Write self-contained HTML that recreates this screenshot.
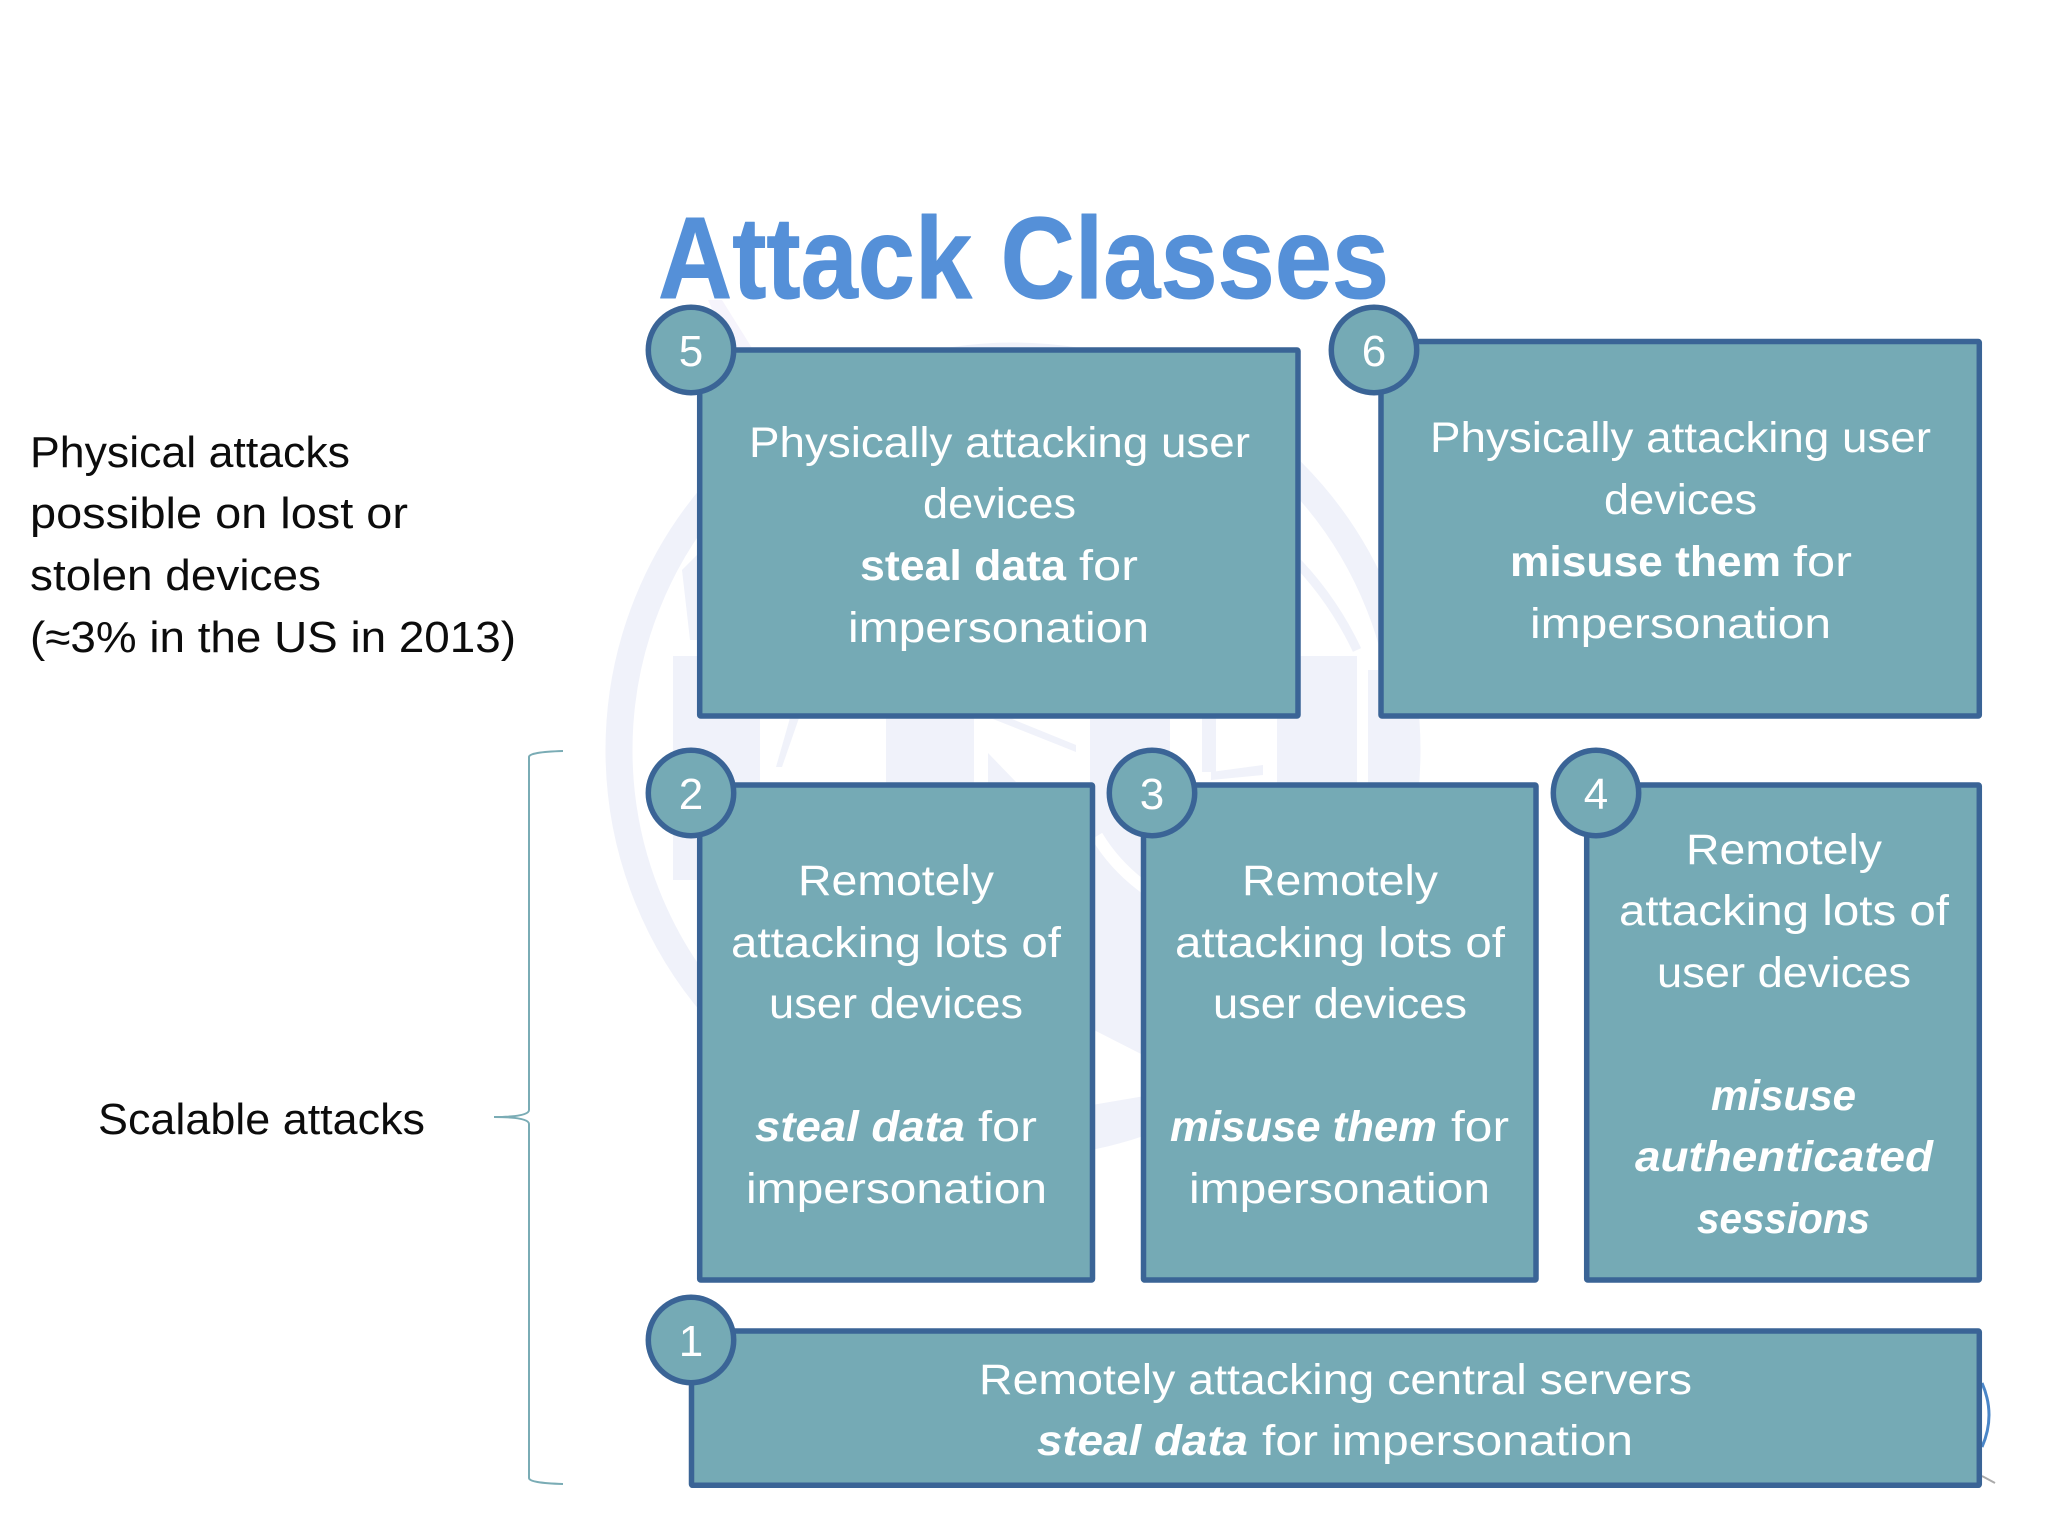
<!DOCTYPE html>
<html><head><meta charset="utf-8"><title>Attack Classes</title>
<style>
html,body{margin:0;padding:0;background:#fff}
svg{display:block}
text{font-family:"Liberation Sans",sans-serif}
.t{font-size:43px;fill:#fff}
.b{font-size:43px;fill:#fff;font-weight:bold}
.i{font-size:43px;fill:#fff;font-weight:bold;font-style:italic}
.n{font-size:44px;fill:#fff;text-anchor:middle}
.l{font-size:44px;fill:#0c0c0c}
.box{fill:#75aab5;stroke:#3a6496;stroke-width:5.5;stroke-linejoin:round}
.c{fill:#75aab5;stroke:#3a6496;stroke-width:5.5}
</style></head><body>
<svg xmlns="http://www.w3.org/2000/svg" width="2048" height="1536" viewBox="0 0 2048 1536">
<rect width="2048" height="1536" fill="#fff"/>
<!-- watermark -->
<g fill="#f0f2fa">
<circle cx="1013" cy="750" r="394" fill="none" stroke="#f0f2fa" stroke-width="27"/>
<path d="M1290 555 A336 336 0 0 1 1357 650" fill="none" stroke="#f0f2fa" stroke-width="9"/>
<path d="M708 300 L722 300 L752 348 L730 348Z" fill="#f6f4fc"/>
<path d="M682 570 L697 555 L697 640 L690 640Z"/>
<rect x="673" y="656" width="87" height="224"/>
<polygon points="776,767 790,718 799,718 782,767"/>
<rect x="886" y="656" width="88" height="130"/>
<polygon points="993,719 1012,719 1076,745 1076,752"/>
<polygon points="988,753 1016,782 988,784"/>
<rect x="1090" y="656" width="80" height="130"/>
<rect x="1202" y="718" width="14" height="54"/>
<polygon points="1211,772 1263,765 1263,775 1211,780"/>
<rect x="1277" y="656" width="80" height="130"/>
<path d="M1092 785 H1145 V1056 L1092 1029Z"/>
<path d="M1097 836 Q1115 866 1145 888" fill="none" stroke="#fff" stroke-width="12"/>
<polygon points="1092,1105 1145,1096 1145,1130 1092,1150"/>
<rect x="1368" y="670" width="32" height="116"/>
</g>
<!-- title -->
<text x="658" y="298" font-size="116" font-weight="bold" fill="#5590d8" stroke="#5590d8" stroke-width="1" stroke-linejoin="round" textLength="731" lengthAdjust="spacingAndGlyphs">Attack Classes</text>
<!-- left labels -->
<text class="l" x="30" y="467" textLength="320" lengthAdjust="spacingAndGlyphs">Physical attacks</text>
<text class="l" x="30" y="528" textLength="378" lengthAdjust="spacingAndGlyphs">possible on lost or</text>
<text class="l" x="30" y="590" textLength="291" lengthAdjust="spacingAndGlyphs">stolen devices</text>
<text class="l" x="30" y="652" textLength="486" lengthAdjust="spacingAndGlyphs">(≈3% in the US in 2013)</text>
<text class="l" x="98" y="1134" textLength="327" lengthAdjust="spacingAndGlyphs">Scalable attacks</text>
<!-- brace -->
<path d="M563 751 Q529 752 529 757 L529 1110 Q529 1117 494 1117 Q529 1117 529 1124 L529 1478 Q529 1483 563 1484" fill="none" stroke="#7aacb5" stroke-width="2"/>
<!-- artifact right -->
<path d="M1982 1383 Q1996 1415 1982 1447" fill="none" stroke="#4a86c8" stroke-width="3"/>
<path d="M1982 1476 L1995 1483" fill="none" stroke="#aaa" stroke-width="2"/>
<!-- boxes -->
<rect class="box" x="699.7" y="350" width="598.3" height="366" rx="1"/>
<rect class="box" x="1381" y="341.5" width="598.3" height="374.5" rx="1"/>
<rect class="box" x="699.7" y="785" width="392.8" height="495" rx="1"/>
<rect class="box" x="1143.5" y="785" width="392.5" height="495" rx="1"/>
<rect class="box" x="1586.7" y="785" width="392.6" height="495" rx="1"/>
<rect class="box" x="691.5" y="1331" width="1287.8" height="154.3" rx="1"/>
<!-- circles -->
<circle class="c" cx="691" cy="350" r="42.7"/><text class="n" x="691" y="366">5</text>
<circle class="c" cx="1374" cy="350" r="42.7"/><text class="n" x="1374" y="366">6</text>
<circle class="c" cx="691" cy="793" r="42.7"/><text class="n" x="691" y="809">2</text>
<circle class="c" cx="1152" cy="793" r="42.7"/><text class="n" x="1152" y="809">3</text>
<circle class="c" cx="1596" cy="793" r="42.7"/><text class="n" x="1596" y="809">4</text>
<circle class="c" cx="691" cy="1340" r="42.7"/><text class="n" x="691" y="1356">1</text>
<!-- box 5 -->
<text class="t" x="749" y="457" textLength="501" lengthAdjust="spacingAndGlyphs">Physically attacking user</text>
<text class="t" x="923" y="518" textLength="153" lengthAdjust="spacingAndGlyphs">devices</text>
<text class="b" x="860" y="580" textLength="206" lengthAdjust="spacingAndGlyphs">steal data</text>
<text class="t" x="1079" y="580" textLength="59" lengthAdjust="spacingAndGlyphs">for</text>
<text class="t" x="848" y="642" textLength="301" lengthAdjust="spacingAndGlyphs">impersonation</text>
<!-- box 6 -->
<text class="t" x="1430" y="452" textLength="501" lengthAdjust="spacingAndGlyphs">Physically attacking user</text>
<text class="t" x="1604" y="514" textLength="153" lengthAdjust="spacingAndGlyphs">devices</text>
<text class="b" x="1510" y="576" textLength="271" lengthAdjust="spacingAndGlyphs">misuse them</text>
<text class="t" x="1793" y="576" textLength="59" lengthAdjust="spacingAndGlyphs">for</text>
<text class="t" x="1530" y="638" textLength="301" lengthAdjust="spacingAndGlyphs">impersonation</text>
<!-- box 2 -->
<text class="t" x="798" y="895" textLength="196" lengthAdjust="spacingAndGlyphs">Remotely</text>
<text class="t" x="731" y="957" textLength="330" lengthAdjust="spacingAndGlyphs">attacking lots of</text>
<text class="t" x="769" y="1018" textLength="254" lengthAdjust="spacingAndGlyphs">user devices</text>
<text class="i" x="755" y="1141" textLength="210" lengthAdjust="spacingAndGlyphs">steal data</text>
<text class="t" x="978" y="1141" textLength="59" lengthAdjust="spacingAndGlyphs">for</text>
<text class="t" x="746" y="1203" textLength="301" lengthAdjust="spacingAndGlyphs">impersonation</text>
<!-- box 3 -->
<text class="t" x="1242" y="895" textLength="196" lengthAdjust="spacingAndGlyphs">Remotely</text>
<text class="t" x="1175" y="957" textLength="330" lengthAdjust="spacingAndGlyphs">attacking lots of</text>
<text class="t" x="1213" y="1018" textLength="254" lengthAdjust="spacingAndGlyphs">user devices</text>
<text class="i" x="1170" y="1141" textLength="267" lengthAdjust="spacingAndGlyphs">misuse them</text>
<text class="t" x="1451" y="1141" textLength="58" lengthAdjust="spacingAndGlyphs">for</text>
<text class="t" x="1189" y="1203" textLength="301" lengthAdjust="spacingAndGlyphs">impersonation</text>
<!-- box 4 -->
<text class="t" x="1686" y="864" textLength="196" lengthAdjust="spacingAndGlyphs">Remotely</text>
<text class="t" x="1619" y="925" textLength="330" lengthAdjust="spacingAndGlyphs">attacking lots of</text>
<text class="t" x="1657" y="987" textLength="254" lengthAdjust="spacingAndGlyphs">user devices</text>
<text class="i" x="1711" y="1110" textLength="145" lengthAdjust="spacingAndGlyphs">misuse</text>
<text class="i" x="1635" y="1171" textLength="298" lengthAdjust="spacingAndGlyphs">authenticated</text>
<text class="i" x="1697" y="1233" textLength="173" lengthAdjust="spacingAndGlyphs">sessions</text>
<!-- box 1 -->
<text class="t" x="979" y="1394" textLength="713" lengthAdjust="spacingAndGlyphs">Remotely attacking central servers</text>
<text class="i" x="1037" y="1455" textLength="211" lengthAdjust="spacingAndGlyphs">steal data</text>
<text class="t" x="1262" y="1455" textLength="371" lengthAdjust="spacingAndGlyphs">for impersonation</text>
</svg>
</body></html>
